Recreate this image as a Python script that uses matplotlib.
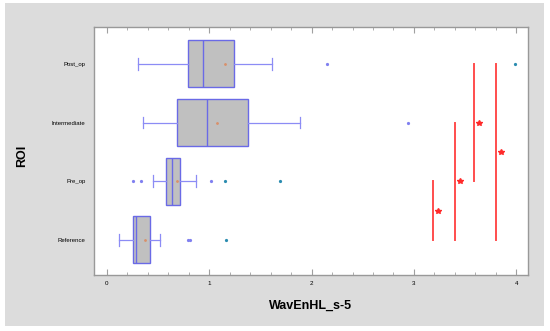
import numpy as np
import matplotlib
matplotlib.use('Agg')
import matplotlib.pyplot as plt
from matplotlib.patches import Rectangle
from matplotlib.ticker import MultipleLocator

plt.rcParams['font.family'] = ['Liberation Sans', 'DejaVu Sans']

# groups, bottom to top
labels = ['Reference', 'Pre_op', 'Intermediate', 'Post_op']
whislo = [0.117, 0.447, 0.355, 0.30]
q1 = [0.254, 0.574, 0.684, 0.79]
med = [0.287, 0.64, 0.98, 0.94]
q3 = [0.417, 0.717, 1.38, 1.24]
whishi = [0.52, 0.867, 1.89, 1.61]
means = [0.368, 0.68, 1.075, 1.15]
near_out = [[0.79, 0.81], [0.257, 0.332, 1.013], [2.94], [2.15]]
far_out = [[1.167], [1.157, 1.69], [], [3.99]]

# significant pairs (group a, group b) and x position of the bar
sig_pairs = [(1, 0), (2, 0), (3, 1), (3, 0)]
sig_x = [3.19, 3.40, 3.59, 3.80]

stats = []
for i in range(len(labels)):
    stats.append(dict(label=labels[i], whislo=whislo[i], q1=q1[i], med=med[i],
                      q3=q3[i], whishi=whishi[i], mean=means[i],
                      fliers=np.array(near_out[i])))

fig = plt.figure(figsize=(5.5, 3.31), dpi=100)
fig.patch.set_facecolor('white')
fig.patches.append(Rectangle((5 / 550, 5 / 331), 539 / 550, 323 / 331,
                             transform=fig.transFigure, facecolor='#dcdcdc',
                             edgecolor='none', zorder=-10))
ax = fig.add_axes([94 / 550, 56 / 331, 434 / 550, 248 / 331])

pos = np.arange(len(labels))
edge = '#6a6ae6'
ax.bxp(stats, positions=pos, widths=0.8, capwidths=0.2,
       orientation='horizontal', patch_artist=True, showmeans=True,
       boxprops=dict(facecolor='#c0c0c0', edgecolor=edge, linewidth=1.0),
       medianprops=dict(color=edge, linewidth=1.0),
       whiskerprops=dict(color='#8c8cf5', linewidth=0.9),
       capprops=dict(color='#8c8cf5', linewidth=0.9),
       meanprops=dict(marker='o', markersize=1.0, markerfacecolor='#d9906a',
                      markeredgecolor='#d9906a'),
       flierprops=dict(marker='o', markersize=1.3, markerfacecolor='#8080f0',
                       markeredgecolor='#8080f0', linestyle='none'))

for i, vals in enumerate(far_out):
    ax.plot(vals, [pos[i]] * len(vals), 'o', ms=1.3, color='#2b8cb0',
            linestyle='none')

for (a, b), x in zip(sig_pairs, sig_x):
    ax.plot([x, x], [a, b], color='#ff4d4d', linewidth=1.4)
    ax.plot(x + 0.05, (a + b) / 2, marker='*', ms=4, color='#ff2a2a',
            linestyle='none')

ax.set_xlim(-0.127, 4.115)
ax.set_ylim(-0.6, 3.63)
ax.set_yticks(pos)
ax.set_yticklabels(labels, fontsize=4.3)
ax.xaxis.set_major_locator(MultipleLocator(1))
ax.xaxis.set_minor_locator(MultipleLocator(0.2))
ax.tick_params(axis='x', which='both', direction='in', top=True,
               color='#a0a0a0', labelsize=4.5, pad=4)
ax.tick_params(axis='x', which='major', length=4)
ax.tick_params(axis='x', which='minor', length=2.5)
ax.tick_params(axis='y', length=0, pad=6)
for s in ax.spines.values():
    s.set_color('#999999')
    s.set_linewidth(1.0)

ax.set_xlabel('WavEnHL_s-5', fontsize=9, fontweight='bold', labelpad=10)
fig.text(22 / 550, 0.53, 'ROI', rotation=90, fontsize=9, fontweight='bold',
         ha='center', va='center')

fig.savefig('out.png', dpi=100)
